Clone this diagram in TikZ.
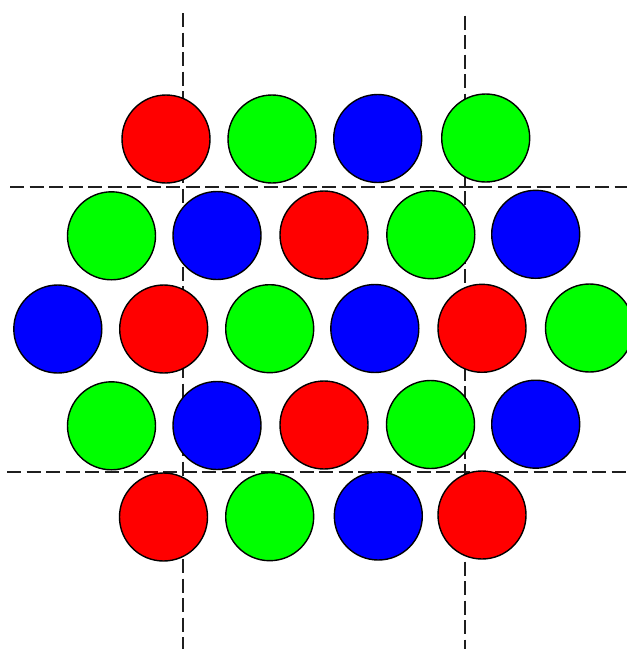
\documentclass[tikz,border=0pt]{standalone}
\begin{document}
\begin{tikzpicture}[x=1pt,y=-1pt,
  disc/.style={circle,draw=black,line width=1.4pt,inner sep=0pt,minimum size=88pt},
  rd/.style={disc,fill={rgb,255:red,255;green,0;blue,0}},
  gr/.style={disc,fill={rgb,255:red,0;green,255;blue,0}},
  bl/.style={disc,fill={rgb,255:red,0;green,0;blue,255}},
  guide/.style={draw=black!88,line width=1.7pt,dash pattern=on 14pt off 5.5pt}]
\useasboundingbox (0,0) rectangle (627,649);
\clip (0,0) rectangle (627,649);
% guide lines
\coordinate (v1t) at (183,13);  \coordinate (v1b) at (183,649);
\coordinate (v2t) at (465,15.5);\coordinate (v2b) at (465,649);
\coordinate (h1l) at (10,187);  \coordinate (h1r) at (627,187);
\coordinate (h2l) at (7,472);   \coordinate (h2r) at (627,472);
\draw[guide] (v1t) -- (v1b);
\draw[guide] (v2t) -- (v2b);
\draw[guide] (h1l) -- (h1r);
\draw[guide] (h2l) -- (h2r);
% row 1
\node[rd] (a1) at (166,139) {};
\node[gr] (a2) at (272,139) {};
\node[bl] (a3) at (377.7,138.5) {};
\node[gr] (a4) at (485.7,138) {};
% row 2
\node[gr] (b1) at (111.5,235.8) {};
\node[bl] (b2) at (217,235.5) {};
\node[rd] (b3) at (324,235) {};
\node[gr] (b4) at (430.8,234.7) {};
\node[bl] (b5) at (535.7,234.3) {};
% row 3
\node[bl] (c1) at (57.8,329) {};
\node[rd] (c2) at (163.7,329) {};
\node[gr] (c3) at (269.7,328.7) {};
\node[bl] (c4) at (374.8,328.5) {};
\node[rd] (c5) at (482,328.3) {};
\node[gr] (c6) at (589.5,328) {};
% row 4
\node[gr] (d1) at (111.5,425.8) {};
\node[bl] (d2) at (217,425.5) {};
\node[rd] (d3) at (324,425) {};
\node[gr] (d4) at (430.5,424.5) {};
\node[bl] (d5) at (535.7,424.2) {};
% row 5
\node[rd] (e1) at (163.5,517) {};
\node[gr] (e2) at (269.7,516.7) {};
\node[bl] (e3) at (378.3,516) {};
\node[rd] (e4) at (482,515) {};
\end{tikzpicture}
\end{document}
